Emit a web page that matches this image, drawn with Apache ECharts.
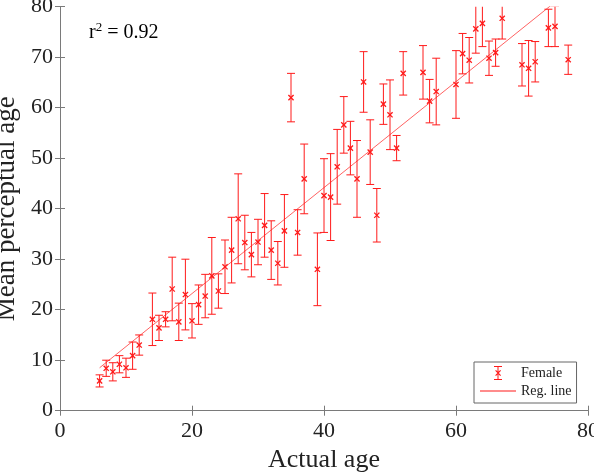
<!DOCTYPE html>
<html>
<head>
<meta charset="utf-8">
<script src="https://cdn.jsdelivr.net/npm/echarts@6/dist/echarts.min.js"></script>
<style>
  html, body { margin: 0; padding: 0; background: #fff; }
  #chart { width: 594px; height: 475px; }
</style>
</head>
<body>
<div id="chart"></div>
<script>
// actual age of each female speaker, mean perceptual age and error bar half-length
const ages = [6, 7, 8, 9, 10, 11, 12, 14, 15, 16, 17, 18, 19, 20, 21, 22, 23, 24, 25, 26,
    27, 28, 29, 30, 31, 32, 33, 34, 35, 36, 37, 39, 40, 41, 42, 43, 44, 45, 46, 47,
    48, 49, 50, 51, 52, 55, 56, 57, 60, 61, 62, 63, 64, 65, 66, 67, 70, 71, 72, 74,
    75, 77]
const means = [5.9, 8.4, 7.7, 9.2, 8.5, 10.9, 13.0, 18.1, 16.4, 18.1, 24.1, 17.6, 23.0, 17.8, 21.0, 22.7, 26.7, 23.7, 28.5, 31.8,
    38.0, 33.3, 30.9, 33.4, 36.7, 31.8, 29.2, 35.6, 62.0, 35.3, 45.9, 28.0, 42.6, 42.3, 48.3, 56.6, 52.0, 45.9, 65.1, 51.2,
    38.7, 60.7, 58.6, 52.0, 66.8, 67.0, 61.3, 63.2, 64.6, 70.7, 69.4, 75.6, 76.7, 69.8, 70.9, 77.7, 68.5, 67.8, 69.1, 75.8,
    76.1, 69.5]
const errs = [1.2, 1.6, 1.8, 1.7, 1.9, 2.7, 2.0, 5.2, 2.5, 1.5, 6.3, 3.7, 7.0, 3.4, 3.9, 4.3, 7.6, 3.4, 5.3, 6.5,
    8.9, 5.4, 4.4, 4.5, 6.3, 5.8, 4.3, 7.2, 4.8, 4.5, 6.9, 7.2, 7.3, 8.6, 7.4, 5.6, 5.3, 7.6, 6.0, 6.4,
    5.3, 4.0, 6.9, 2.5, 4.3, 5.3, 4.3, 6.6, 6.7, 4.0, 4.5, 4.8, 4.6, 3.4, 2.7, 4.1, 4.2, 5.5, 4.0, 3.7,
    4.0, 2.9]
// regression line end points
const regX = [6, 77]
const regY = [8.5, 83.0]

const RED = '#ff1a1a'
const AXIS = '#7a7a7a'
const FONT = 'Liberation Serif'

const points = ages.map((a, i) => [a, means[i], errs[i]])
const regLine = regX.map((x, i) => [x, regY[i]])

const errIcon = 'path://M14 0 H22 V1 H14 Z M14 13 H22 V14 H14 Z M17.5 0 H18.5 V14 H17.5 Z ' +
    'M15.2 4.8 L16 4 L21 9.2 L20.2 10 Z M20.2 4 L21 4.8 L16 10 L15.2 9.2 Z'
const lineIcon = 'path://M0 0 H36 V1 H0 Z'

function renderErrorBar(params, api) {
    const x = api.value(0), y = api.value(1), e = api.value(2)
    const c = api.coord([x, y])
    const top = api.coord([x, y + e])
    const bot = api.coord([x, y - e])
    const cap = 4, m = 2.6
    const style = { stroke: RED, lineWidth: 1, fill: null }
    return {
        type: 'group',
        children: [
            { type: 'line', shape: { x1: top[0], y1: top[1], x2: bot[0], y2: bot[1] }, style: style },
            { type: 'line', shape: { x1: top[0] - cap, y1: top[1], x2: top[0] + cap, y2: top[1] }, style: style },
            { type: 'line', shape: { x1: bot[0] - cap, y1: bot[1], x2: bot[0] + cap, y2: bot[1] }, style: style },
            { type: 'line', shape: { x1: c[0] - m, y1: c[1] - m, x2: c[0] + m, y2: c[1] + m }, style: { stroke: RED, lineWidth: 1.3 } },
            { type: 'line', shape: { x1: c[0] - m, y1: c[1] + m, x2: c[0] + m, y2: c[1] - m }, style: { stroke: RED, lineWidth: 1.3 } }
        ]
    }
}

const myChart = echarts.init(document.getElementById('chart'))
const option = {
    animation: false,
    backgroundColor: '#fff',
    textStyle: { fontFamily: FONT },
    grid: {
        left: 60,
        right: 6,
        top: 6.7,
        bottom: 64.3,
        containLabel: false,
        outerBoundsMode: 'none'
    },
    xAxis: [
    {
        type: 'value',
        min: 0,
        max: 80,
        interval: 20,
        name: 'Actual age',
        nameLocation: 'middle',
        nameGap: 36,
        nameTextStyle: { fontFamily: FONT, fontSize: 26, color: '#222' },
        axisLine: { show: true, lineStyle: { color: AXIS, width: 1 } },
        axisTick: { show: true, inside: true, length: 5, lineStyle: { color: AXIS } },
        axisLabel: { fontFamily: FONT, fontSize: 22, color: '#222', margin: 10 },
        splitLine: { show: false }
    },
    {
        type: 'value',
        position: 'top',
        min: 0,
        max: 80,
        interval: 20,
        axisLine: { show: true, lineStyle: { color: AXIS, width: 1 } },
        axisTick: { show: true, inside: true, length: 5, lineStyle: { color: AXIS } },
        axisLabel: { show: false },
        splitLine: { show: false }
    }],
    yAxis: [
    {
        type: 'value',
        min: 0,
        max: 80,
        interval: 10,
        name: 'Mean perceptual age',
        nameLocation: 'middle',
        nameGap: 27,
        nameTextStyle: { fontFamily: FONT, fontSize: 27, color: '#222' },
        axisLine: { show: true, lineStyle: { color: AXIS, width: 1 } },
        axisTick: { show: true, inside: true, length: 5, lineStyle: { color: AXIS } },
        axisLabel: { fontFamily: FONT, fontSize: 22, color: '#222', margin: 7 },
        splitLine: { show: false }
    },
    {
        type: 'value',
        position: 'right',
        min: 0,
        max: 80,
        interval: 10,
        axisLine: { show: true, lineStyle: { color: AXIS, width: 1 } },
        axisTick: { show: true, inside: true, length: 5, lineStyle: { color: AXIS } },
        axisLabel: { show: false },
        splitLine: { show: false }
    }],
    legend: {
        left: 474,
        top: 362,
        orient: 'vertical',
        selectedMode: false,
        padding: [4, 5, 5, 6],
        itemGap: 4,
        itemWidth: 36,
        itemHeight: 14,
        borderColor: '#666',
        borderWidth: 1,
        borderRadius: 0,
        backgroundColor: '#fff',
        textStyle: { fontFamily: FONT, fontSize: 14, color: '#222' },
        data: [
            { name: 'Female', icon: errIcon },
            { name: 'Reg. line', icon: lineIcon }
        ]
    },
    graphic: [
    {
        type: 'text',
        left: 89,
        top: 21,
        style: {
            text: '{b|r}{s|2}{b| = 0.92}',
            rich: {
                b: { fontFamily: FONT, fontSize: 20, color: '#111', lineHeight: 24 },
                s: { fontFamily: FONT, fontSize: 13, color: '#111', lineHeight: 13, verticalAlign: 'top' }
            }
        }
    }],
    series: [
    {
        name: 'Female',
        type: 'custom',
        clip: true,
        itemStyle: { color: RED },
        renderItem: renderErrorBar,
        encode: { x: 0, y: [1, 2] },
        data: points,
        z: 3
    },
    {
        name: 'Reg. line',
        type: 'line',
        clip: true,
        showSymbol: false,
        symbol: 'none',
        itemStyle: { color: RED },
        lineStyle: { color: '#ff3a3a', width: 0.8 },
        data: regLine,
        z: 2
    }]
}
option && myChart.setOption(option)
</script>
</body>
</html>
